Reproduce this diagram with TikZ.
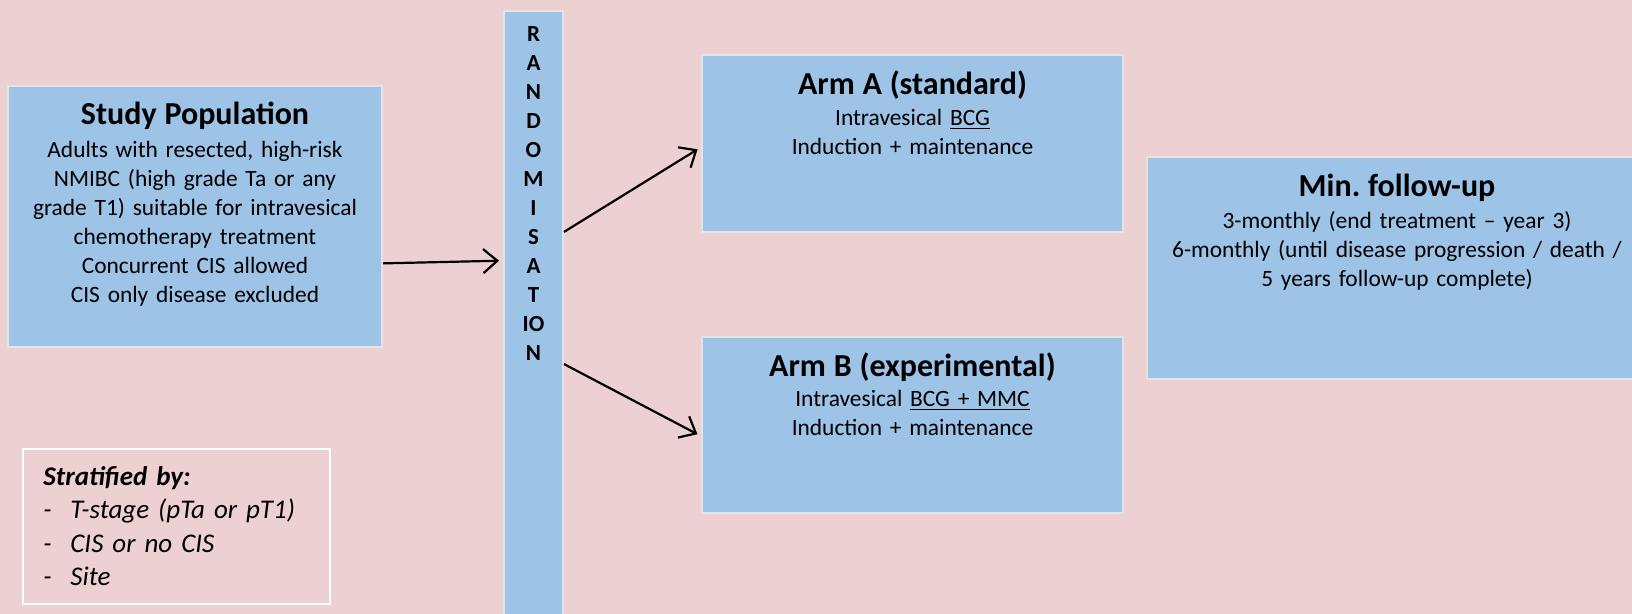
\documentclass[tikz,border=0pt]{standalone}
\usepackage{fontspec}
\setmainfont{Carlito}
\frenchspacing
\usetikzlibrary{arrows.meta, positioning}
\definecolor{bgpink}{RGB}{237,208,209}
\definecolor{armblue}{RGB}{157,195,230}
\definecolor{edgegrey}{RGB}{228,228,230}
\tikzstyle{box}=[draw=edgegrey, fill=armblue, line width=1pt, inner sep=0pt]
\tikzstyle{stratbox}=[draw=white, line width=1pt, inner sep=0pt]
\tikzstyle{boxtext}=[align=center, inner sep=0pt, anchor=base, font=\fontsize{11.7}{14.5}\selectfont]
\tikzstyle{letter}=[inner sep=0pt, anchor=base, font=\fontsize{11.5}{12}\selectfont\bfseries]
\tikzstyle{link}=[-{Straight Barb[length=7pt,width=12pt]}, line width=1.1pt, shorten >=2pt]
\newcommand{\hd}[1]{{\fontsize{16}{19}\selectfont\bfseries #1}}

\begin{document}
\begin{tikzpicture}[x=0.5pt,y=-0.5pt]

  \fill[bgpink] (0,0) rectangle (1632,614);
  \clip (0,0) rectangle (1632,614);

  % boxes: name/x/y/width/height (pixels)
  \foreach \name/\x/\y/\w/\h in {pop/195/216.5/374/261, rand/533.5/320.5/59/619,
      armA/912.5/143.5/421/177, armB/912.5/425/421/176, fup/1397/268/500/222}
    \node[box, minimum width=\w*0.5pt, minimum height=\h*0.5pt] (P-\name) at (\x,\y) {};

  \node[stratbox, minimum width=153.5pt, minimum height=77.5pt] (P-strat) at (176.5,526.5) {};

  \foreach \l [count=\i] in {R,A,N,D,O,M,I,S,A,T,IO,N}
    \node[letter] (L-\i) at (533.5,13+29*\i) {\l};

  \node[boxtext, text width=185pt] (T-pop) at (195,125) {\hd{Study Population}\\[1.8pt]
    Adults with resected, high-risk\\ NMIBC (high grade Ta or any\\
    grade T1) suitable for intravesical\\ chemotherapy treatment\\
    Concurrent CIS allowed\\ CIS only disease excluded};

  \node[boxtext, text width=210pt] (T-armA) at (912.5,95) {\hd{Arm A (standard)}\\[0.6pt]
    Intravesical \underline{BCG}\\ Induction + maintenance};

  \node[boxtext, text width=210pt] (T-armB) at (912.5,376.7) {\hd{Arm B (experimental)}\\[0.6pt]
    Intravesical \underline{BCG + MMC}\\ Induction + maintenance};

  \node[boxtext, text width=250pt] (T-fup) at (1397,196.7) {\hd{Min. follow-up}\\[1.3pt]
    3-monthly (end treatment -- year 3)\\
    6-monthly (until disease progression / death /\\
    5 years follow-up complete)};

  \node[inner sep=0pt, anchor=base west, align=left, text width=140pt,
    font=\fontsize{13.5}{16.75}\selectfont\itshape] (T-strat) at (43,485)
    {\textbf{Stratified by:}\\
     \makebox[13.5pt][l]{-}T-stage (pTa or pT1)\\
     \makebox[13.5pt][l]{-}CIS or no CIS\\
     \makebox[13.5pt][l]{-}Site};

  \draw[link] (P-pop.-14) -- (P-rand.117.2);
  \draw[link] (P-rand.71.2) -- (P-armA.181);
  \draw[link] (P-rand.-55.9) -- (P-armB.183.3);

\end{tikzpicture}
\end{document}
